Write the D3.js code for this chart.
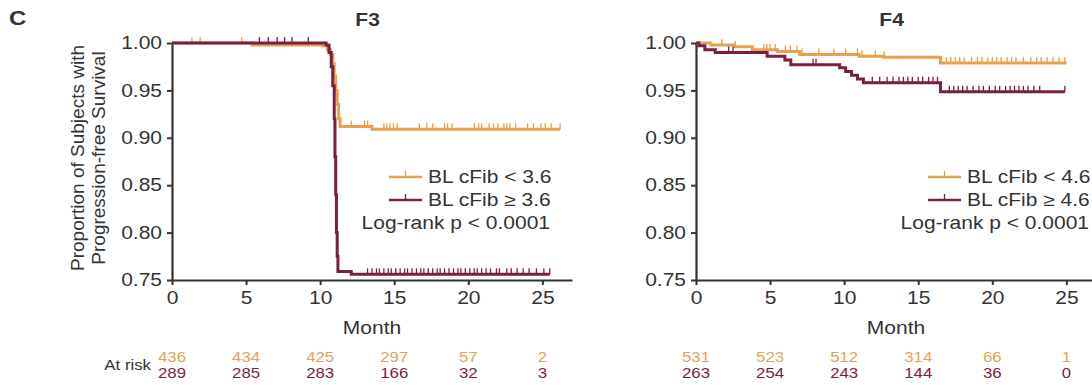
<!DOCTYPE html>
<html lang="en">
<head>
	<meta charset="utf-8">
	<title>Progression-free survival by baseline cFib</title>
	<script src="https://cdn.jsdelivr.net/npm/d3@7"></script>
	<style>
		body { margin: 0; background: #fff; }
		svg text { font-family: "Liberation Sans", Arial, sans-serif; fill: #333; }
	</style>
</head>
<body>
<div id="chart"></div>
<script>
// ---- data ----
const monthTicks = [0, 5, 10, 15, 20, 25];
const survTicks = [0.75, 0.80, 0.85, 0.90, 0.95, 1.00];

// F3: Kaplan-Meier steps [month, proportion]
const f3Low = [[0, 1.0], [5.4, 0.998], [10.2, 0.997], [10.5, 0.993], [10.7, 0.988], [10.85, 0.978],
	[10.95, 0.965], [11.05, 0.95], [11.15, 0.935], [11.25, 0.92], [11.35, 0.912], [13.5, 0.909], [26.2, 0.909]];
const f3High = [[0, 1.0], [10.4, 0.998], [10.6, 0.99], [10.75, 0.975], [10.85, 0.955], [10.95, 0.92],
	[11.0, 0.88], [11.05, 0.84], [11.1, 0.80], [11.15, 0.775], [11.2, 0.759], [12.1, 0.756], [25.5, 0.756]];
const f3LowCensor = [1.35, 1.9, 4.7, 12.1, 13.0, 13.2, 14.3, 14.5, 14.7, 14.95, 15.2, 16.7, 17.2, 17.6, 18.4,
	18.6, 18.9, 20.4, 20.7, 20.9, 21.4, 21.7, 22.0, 22.4, 22.6, 22.8, 23.2, 24.0, 24.4, 24.9, 25.2, 25.6, 26.2];
const f3HighCensor = [5.9, 6.5, 7.1, 7.6, 8.1, 9.2, 13.2, 13.5, 13.8, 14.0, 14.3, 14.6, 14.8, 15.1, 15.4, 15.7,
	15.9, 16.2, 16.5, 16.8, 17.0, 17.3, 17.6, 17.9, 18.1, 18.4, 18.7, 19.0, 19.3, 19.5, 19.8, 20.1, 20.4, 20.6,
	20.9, 21.2, 21.5, 21.9, 22.1, 22.6, 22.9, 23.3, 23.7, 24.1, 24.6, 25.1, 25.5];
const f3RiskLow = [436, 434, 425, 297, 57, 2];
const f3RiskHigh = [289, 285, 283, 166, 32, 3];

// F4
const f4Low = [[0, 1.0], [1.0, 0.998], [2.6, 0.996], [3.8, 0.993], [5.5, 0.991], [7.0, 0.988],
	[11.0, 0.986], [12.7, 0.985], [16.5, 0.979], [25.0, 0.979]];
const f4High = [[0, 1.0], [0.2, 0.997], [0.6, 0.993], [1.3, 0.990], [4.8, 0.986], [6.0, 0.982], [6.4, 0.977],
	[9.7, 0.974], [10.1, 0.970], [10.5, 0.966], [10.9, 0.962], [11.3, 0.958], [16.5, 0.9485], [24.9, 0.9485]];
const f4LowCensor = [1.74, 2.65, 4.57, 4.79, 5.0, 5.35, 6.03, 6.37, 6.82, 7.16, 8.29, 9.3, 10.1, 10.9, 11.2,
	12.1, 12.7, 16.9, 17.2, 17.5, 17.8, 18.1, 18.6, 19.0, 19.3, 19.7, 20.0, 20.3, 20.6, 21.0, 21.3, 21.6, 22.1,
	22.6, 23.0, 23.3, 23.7, 24.1, 24.5, 24.9];
const f4HighCensor = [2.2, 2.5, 7.9, 8.1, 11.9, 12.4, 12.9, 13.3, 13.7, 14.0, 14.3, 14.6, 15.0, 15.3, 15.7,
	16.0, 16.3, 17.1, 17.4, 17.7, 18.0, 18.3, 18.7, 19.1, 19.4, 19.8, 20.2, 20.5, 20.9, 21.2, 21.5, 21.8, 22.1,
	22.4, 22.8, 23.2, 24.9];
const f4RiskLow = [531, 523, 512, 314, 66, 1];
const f4RiskHigh = [263, 254, 243, 144, 36, 0];

const orange = "#E9A04C", maroon = "#7B1E46";
const riskOrange = "#E2A25C", riskMaroon = "#7B1E46";
const sx = 1.2; // the figure's lettering is a bit wider than plain Arial

const svg = d3.select("#chart").append("svg")
	.attr("width", 1092)
	.attr("height", 385);

// text helper, widened horizontally like the original
function stext(parent, x, y, str, size, anchor) {
	return parent.append("text")
		.attr("transform", "translate(" + x + "," + y + ") scale(" + sx + ",1)")
		.attr("text-anchor", anchor || "start")
		.style("font-size", size + "px")
		.text(str);
}

// panel letter
stext(svg, 9, 25, "C", 20).style("font-weight", "bold");

// y-axis label (left panel only)
const ylab = ["Proportion of Subjects with", "Progression-free Survival"];
ylab.forEach((t, i) => {
	svg.append("text")
		.attr("transform", "translate(" + (84 + i * 21) + ",158) rotate(-90)")
		.attr("text-anchor", "middle")
		.style("font-size", "19px")
		.text(t);
});

// step lookup used to sit censor ticks on their curve
function survAt(steps, t) {
	let s = steps[0][1];
	steps.forEach(p => { if (p[0] <= t) s = p[1]; });
	return s;
}

function drawPanel(opt) {
	const x = d3.scaleLinear().domain([0, 27]).range([opt.left, opt.left + 400]);
	const y = d3.scaleLinear().domain([0.75, 1.0]).range([280, 43]);

	const g = svg.append("g");

	// title
	stext(g, x(13.2), 26, opt.title, 17.5, "middle").style("font-weight", "bold");

	// axes
	const yAxis = g.append("g")
		.attr("transform", "translate(" + opt.left + ",0)")
		.call(d3.axisLeft(y).tickValues(survTicks).tickFormat(d3.format(".2f"))
			.tickSize(5).tickSizeOuter(0).tickPadding(5));
	const xAxis = g.append("g")
		.attr("transform", "translate(0,280)")
		.call(d3.axisBottom(x).tickValues(monthTicks).tickFormat(d3.format("d"))
			.tickSize(5).tickSizeOuter(0).tickPadding(7));
	[xAxis, yAxis].forEach(a => {
		a.select(".domain").attr("stroke", "#333").attr("stroke-width", 2.2);
		a.selectAll(".tick line").attr("stroke", "#333").attr("stroke-width", 2);
		a.selectAll(".tick text")
			.style("font-size", "17.5px")
			.attr("fill", "#333")
			.attr("transform", "scale(" + sx + ",1)");
	});
	yAxis.selectAll(".tick text").attr("x", -10 / sx);

	stext(g, x(13.5), 334, "Month", 17.5, "middle");

	// curves
	const line = d3.line().curve(d3.curveStepAfter)
		.x(d => x(d[0])).y(d => y(d[1]));

	opt.curves.forEach(c => {
		g.append("path")
			.datum(c.steps)
			.attr("fill", "none")
			.attr("stroke", c.color)
			.attr("stroke-width", 3)
			.attr("d", line);
		g.selectAll(null)
			.data(c.censor)
			.enter().append("line")
			.attr("x1", d => x(d)).attr("x2", d => x(d))
			.attr("y1", d => y(survAt(c.steps, d)))
			.attr("y2", d => y(survAt(c.steps, d)) - 6)
			.attr("stroke", c.color)
			.attr("stroke-width", 1.3);
	});

	// legend
	opt.curves.forEach((c, i) => {
		const ly = 177 + i * 23;
		g.append("line")
			.attr("x1", opt.legX).attr("x2", opt.legX + 33)
			.attr("y1", ly).attr("y2", ly)
			.attr("stroke", c.color).attr("stroke-width", 2.5);
		g.append("line")
			.attr("x1", opt.legX + 16.5).attr("x2", opt.legX + 16.5)
			.attr("y1", ly).attr("y2", ly - 6)
			.attr("stroke", c.color).attr("stroke-width", 1.3);
		stext(g, opt.legX + 39, ly + 6, c.label, 17.5);
	});
	stext(g, opt.legX + 161, 229, "Log-rank p < 0.0001", 17.5, "end");

	// numbers at risk
	opt.curves.forEach((c, i) => {
		c.risk.forEach((d, j) => {
			stext(g, x(monthTicks[j]), 362 + i * 16, d, 14, "middle")
				.style("fill", i === 0 ? riskOrange : riskMaroon);
		});
	});
	if (opt.atRisk) {
		stext(g, opt.left - 21, 370, "At risk", 14, "end");
	}
}

drawPanel({
	left: 172, title: "F3", legX: 389, atRisk: true,
	curves: [
		{ steps: f3Low, censor: f3LowCensor, color: orange, label: "BL cFib < 3.6", risk: f3RiskLow },
		{ steps: f3High, censor: f3HighCensor, color: maroon, label: "BL cFib \u2265 3.6", risk: f3RiskHigh }
	]
});
drawPanel({
	left: 696, title: "F4", legX: 928, atRisk: false,
	curves: [
		{ steps: f4Low, censor: f4LowCensor, color: orange, label: "BL cFib < 4.6", risk: f4RiskLow },
		{ steps: f4High, censor: f4HighCensor, color: maroon, label: "BL cFib \u2265 4.6", risk: f4RiskHigh }
	]
});
</script>
</body>
</html>
